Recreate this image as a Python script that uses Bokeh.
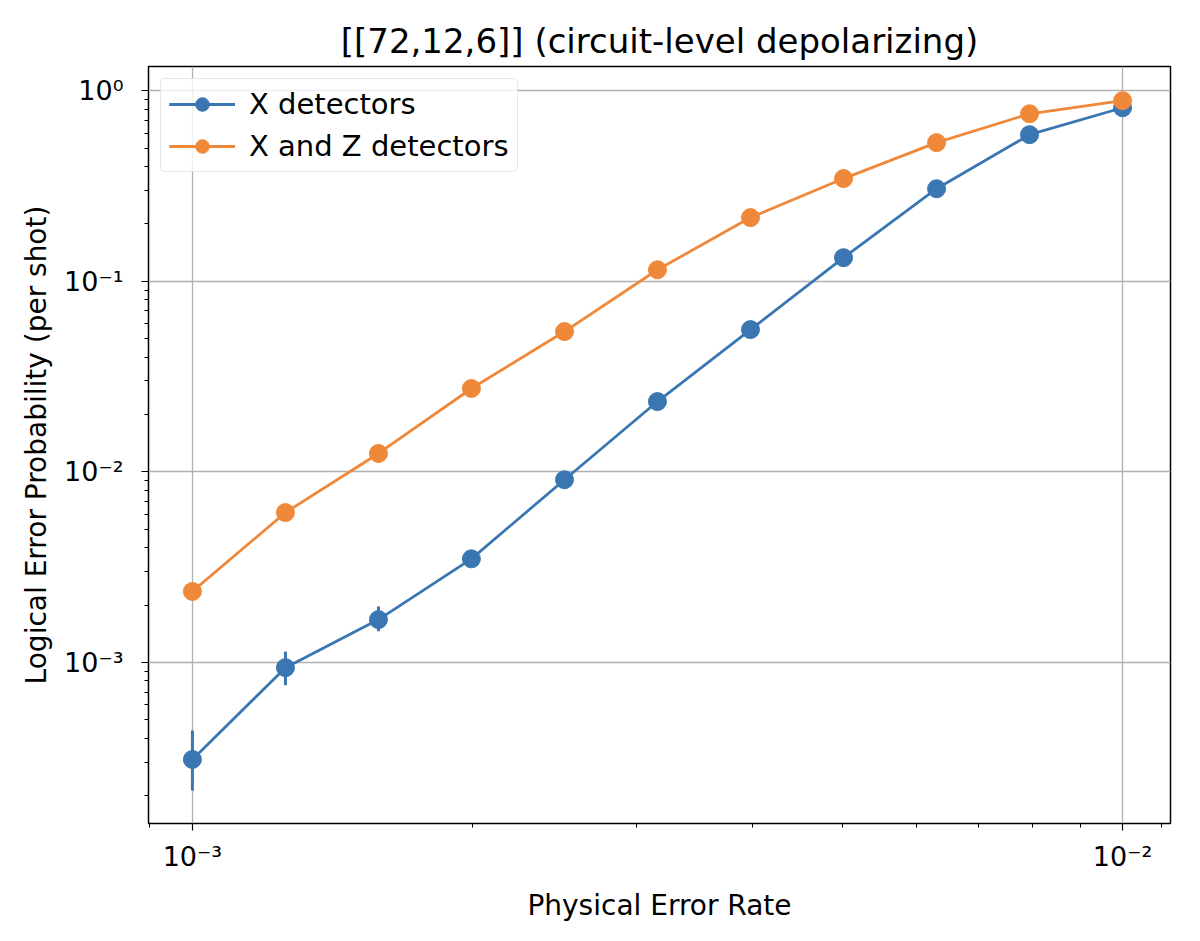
from bokeh.plotting import figure
from bokeh.models import FixedTicker, Range1d, Legend, LegendItem
from bokeh.embed import file_html
from bokeh.resources import INLINE

# Data
p_phys = [0.001, 0.001259, 0.001585, 0.001995, 0.002512, 0.003162, 0.003981, 0.005012, 0.00631, 0.007943, 0.01]
x_det = [3.1e-4, 9.4e-4, 1.68e-3, 3.5e-3, 9.1e-3, 2.34e-2, 5.58e-2, 0.133, 0.306, 0.588, 0.814]
x_det_lo = [2.13e-4, 7.6e-4, 1.46e-3, 3.2e-3, 8.6e-3, 2.26e-2, 5.45e-2, 0.131, 0.303, 0.584, 0.811]
x_det_hi = [4.4e-4, 1.14e-3, 1.97e-3, 3.8e-3, 9.6e-3, 2.42e-2, 5.71e-2, 0.135, 0.309, 0.592, 0.817]
xz_det = [2.36e-3, 6.12e-3, 1.25e-2, 2.74e-2, 5.45e-2, 0.115, 0.216, 0.346, 0.534, 0.757, 0.887]
xz_det_lo = [2.25e-3, 5.95e-3, 1.23e-2, 2.71e-2, 5.41e-2, 0.114, 0.215, 0.345, 0.533, 0.756, 0.886]
xz_det_hi = [2.47e-3, 6.29e-3, 1.27e-2, 2.77e-2, 5.49e-2, 0.116, 0.217, 0.347, 0.535, 0.758, 0.888]

x_major = [1e-3, 1e-2]
x_minor = [9e-4] + [k * 1e-3 for k in range(2, 10)] + [1.1e-2]
y_major = [1e-3, 1e-2, 1e-1, 1.0]
y_minor = [k * 1e-4 for k in range(2, 10)] + [k * 1e-3 for k in range(2, 10)] + \
          [k * 1e-2 for k in range(2, 10)] + [k * 1e-1 for k in range(2, 10)]
x_labels = {1e-3: "10\u207b\u00b3", 1e-2: "10\u207b\u00b2"}
y_labels = {1e-3: "10\u207b\u00b3", 1e-2: "10\u207b\u00b2", 1e-1: "10\u207b\u00b9", 1.0: "10\u2070"}

BLUE = "#3a76b2"
ORANGE = "#f0883a"
FONT = "DejaVu Sans"

p = figure(width=1192, height=933, x_axis_type="log", y_axis_type="log",
           output_backend="svg", toolbar_location=None,
           x_range=Range1d(8.97e-4, 1.126e-2), y_range=Range1d(1.43e-4, 1.34),
           min_border_left=148, min_border_right=22, min_border_top=66, min_border_bottom=110)

p.title.text = "[[72,12,6]] (circuit-level depolarizing)"
p.title.align = "center"
p.title.text_font = FONT
p.title.text_font_size = "34px"
p.title.text_font_style = "normal"
p.title.text_color = "black"
p.title.offset = 0
p.title.standoff = 12

p.outline_line_color = "black"
p.outline_line_width = 1.5
p.outline_line_alpha = 1

for ax, ticks, minors, labels, lab in [
    (p.xaxis[0], x_major, x_minor, x_labels, "Physical Error Rate"),
    (p.yaxis[0], y_major, y_minor, y_labels, "Logical Error Probability (per shot)")]:
    ax.ticker = FixedTicker(ticks=ticks, minor_ticks=minors)
    ax.major_label_overrides = labels
    ax.axis_label = lab
    ax.axis_label_text_font = FONT
    ax.axis_label_text_font_size = "28px"
    ax.axis_label_text_font_style = "normal"
    ax.axis_label_text_color = "black"
    ax.major_label_text_font = FONT
    ax.major_label_text_font_size = "27px"
    ax.major_label_text_color = "black"
    ax.major_tick_out = 7
    ax.major_tick_in = 0
    ax.minor_tick_out = 4
    ax.minor_tick_in = 0
    ax.axis_line_color = None
    ax.major_tick_line_width = 1.2
    ax.minor_tick_line_width = 1

p.xaxis.major_label_standoff = 10
p.xaxis.axis_label_standoff = 14
p.yaxis.major_label_standoff = 18
p.yaxis.axis_label_standoff = 8

p.xgrid.ticker = FixedTicker(ticks=x_major)
p.ygrid.ticker = FixedTicker(ticks=y_major)
p.grid.grid_line_color = "#b0b0b0"
p.grid.grid_line_width = 1.3

# Error bars
eb1 = p.segment(x0=p_phys, y0=x_det_lo, x1=p_phys, y1=x_det_hi, line_color=BLUE, line_width=3)
eb2 = p.segment(x0=p_phys, y0=xz_det_lo, x1=p_phys, y1=xz_det_hi, line_color=ORANGE, line_width=3)

l1 = p.line(p_phys, x_det, line_color=BLUE, line_width=2.8)
c1 = p.scatter(p_phys, x_det, size=18, fill_color=BLUE, line_color=BLUE)
l2 = p.line(p_phys, xz_det, line_color=ORANGE, line_width=2.8)
c2 = p.scatter(p_phys, xz_det, size=18, fill_color=ORANGE, line_color=ORANGE)

legend = Legend(items=[LegendItem(label="X detectors", renderers=[l1, c1, eb1]),
                       LegendItem(label="X and Z detectors", renderers=[l2, c2, eb2])],
                location="top_left")
legend.label_text_font = FONT
legend.label_text_font_size = "29px"
legend.label_text_color = "black"
legend.border_line_color = "#d0d0d0"
legend.border_line_width = 1.2
legend.border_radius = 5
legend.background_fill_alpha = 0.8
legend.margin = 12
legend.padding = 8
legend.spacing = 8
legend.glyph_width = 66
legend.glyph_height = 34
legend.label_standoff = 14
legend.label_height = 34
p.add_layout(legend)

open("out.html", "w").write(file_html(p, INLINE))
